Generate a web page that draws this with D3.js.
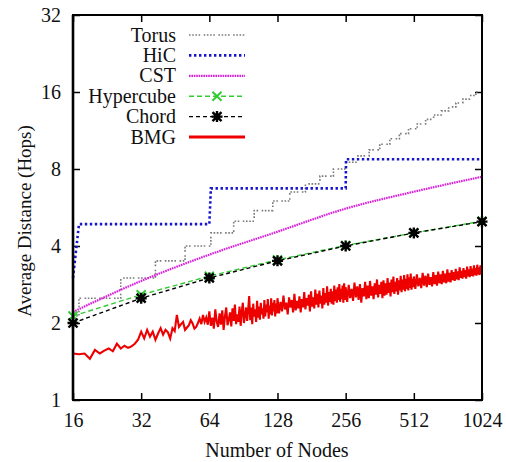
<!DOCTYPE html>
<html lang="en">
<head>
  <meta charset="UTF-8">
  <title>Average Distance vs Number of Nodes</title>
  <script src="https://cdn.jsdelivr.net/npm/d3@7"></script>
  <style>
    body {
      margin: 0;
      background-color: #fff;
    }
    svg text {
      font-family: "Liberation Serif", "Times New Roman", Times, "DejaVu Serif", serif;
      font-size: 20px;
      fill: #111;
    }
    .tick line {
      stroke: #000;
      stroke-width: 1.5;
    }
  </style>
</head>
<body>
  <div id="chart"></div>
  <script>
    // Data
    const xTicks = [16, 32, 64, 128, 256, 512, 1024];
    const yTicks = [1, 2, 4, 8, 16, 32];

    const powNodes = [16, 32, 64, 128, 256, 512, 1024];
    const hypercubeHops = [2.13, 2.58, 3.05, 3.53, 4.02, 4.5, 5.0];
    const chordHops = [2.0, 2.5, 3.0, 3.5, 4.0, 4.5, 4.98];

    const cstHops = [2.21, 2.92, 3.7, 4.55, 5.6, 6.52, 7.46];

    // step starts (value holds until next node)
    const torusNodes = [16, 17, 26, 37, 50, 65, 82, 101, 122, 145, 170, 197, 226, 257, 290,
      325, 362, 401, 442, 485, 530, 577, 626, 677, 730, 785, 842, 901, 962, 1024];
    const torusHops = [2.13, 2.5, 3, 3.5, 4, 4.5, 5, 5.5, 6, 6.5, 7, 7.5, 8, 8.5, 9,
      9.5, 10, 10.5, 11, 11.5, 12, 12.5, 13, 13.5, 14, 14.5, 15, 15.5, 16, 16];

    const hicNodes = [16, 17, 64, 65, 256, 257, 1024];
    const hicHops = [3.0, 4.87, 4.87, 6.72, 6.72, 8.73, 8.73];

    // BMG sampled every node up to 128, then every 2, 4, 8 nodes
    const bmgNodes = [].concat(
      d3.range(16, 128, 1),
      d3.range(128, 256, 2),
      d3.range(256, 512, 4),
      d3.range(512, 1025, 8)
    );
    const bmgHops = [
      // 16 - 63
      1.52, 1.51, 1.52, 1.45, 1.57, 1.52, 1.56, 1.59, 1.55, 1.66, 1.59, 1.63, 1.60, 1.62, 1.66, 1.72,
      1.85, 1.74, 1.88, 1.77, 1.85, 1.72, 1.82, 1.91, 1.80, 1.88, 1.84, 1.74, 1.91, 1.86, 2.15, 1.93,
      1.98, 2.02, 1.88, 1.92, 1.96, 2.05, 1.99, 1.90, 1.93, 2.00, 2.08, 1.98, 2.15, 2.02, 2.10, 1.97,
      // 64 - 127
      2.22, 1.95, 2.10, 1.90, 2.26, 2.02, 1.93, 2.18, 1.97, 2.24, 1.88, 2.12, 2.30, 1.96, 2.06, 2.20,
      1.94, 2.28, 2.04, 2.36, 1.98, 2.16, 2.02, 2.32, 1.95, 2.22, 2.40, 2.00, 2.14, 2.30, 2.04, 2.26,
      2.55, 2.05, 2.30, 1.98, 2.38, 2.12, 2.26, 2.02, 2.44, 2.10, 2.32, 2.06, 2.40, 2.16, 2.28, 2.08,
      2.46, 2.12, 2.36, 2.20, 2.48, 2.08, 2.34, 2.16, 2.50, 2.14, 2.40, 2.22, 2.46, 2.12, 2.38, 2.18,
      // 128 - 254
      2.50, 2.18, 2.42, 2.22, 2.56, 2.26, 2.40, 2.16, 2.52, 2.30, 2.46, 2.20, 2.60, 2.24, 2.44, 2.28,
      2.54, 2.20, 2.48, 2.30, 2.64, 2.26, 2.50, 2.34, 2.58, 2.22, 2.66, 2.32, 2.52, 2.28, 2.70, 2.36,
      2.60, 2.30, 2.68, 2.38, 2.56, 2.28, 2.74, 2.36, 2.62, 2.40, 2.78, 2.34, 2.64, 2.42, 2.72, 2.38,
      2.66, 2.36, 2.80, 2.44, 2.70, 2.40, 2.76, 2.46, 2.84, 2.42, 2.72, 2.48, 2.80, 2.40, 2.86, 2.46,
      // 256 - 508
      2.76, 2.42, 2.82, 2.50, 2.72, 2.44, 2.88, 2.52, 2.78, 2.46, 2.84, 2.40, 2.74, 2.54, 2.90, 2.48,
      2.80, 2.50, 2.92, 2.56, 2.78, 2.48, 2.86, 2.58, 2.96, 2.52, 2.82, 2.60, 2.90, 2.50, 2.94, 2.56,
      2.86, 2.58, 3.00, 2.62, 2.88, 2.54, 2.96, 2.64, 3.04, 2.60, 2.90, 2.66, 3.00, 2.58, 2.94, 2.68,
      3.06, 2.64, 2.96, 2.70, 3.08, 2.66, 2.98, 2.72, 3.10, 2.68, 3.02, 2.74, 3.12, 2.70, 2.98, 2.76,
      // 512 - 1024
      3.04, 2.72, 3.10, 2.78, 3.00, 2.74, 3.14, 2.80, 3.06, 2.76, 3.12, 2.82, 3.02, 2.78, 3.16, 2.84,
      3.08, 2.80, 3.18, 2.86, 3.10, 2.84, 3.20, 2.88, 3.12, 2.86, 3.24, 2.90, 3.14, 2.88, 3.22, 2.94,
      3.16, 2.92, 3.26, 2.96, 3.18, 2.94, 3.30, 3.00, 3.20, 2.98, 3.28, 3.02, 3.22, 2.98, 3.32, 3.04,
      3.24, 3.02, 3.34, 3.06, 3.26, 3.04, 3.36, 3.08, 3.28, 3.06, 3.38, 3.10, 3.30, 3.08, 3.36, 3.12,
      3.28
    ];

    const series = [
      { name: "Torus", color: "#7a7a7a", width: 1.6, dash: "1.6,1.6,1.6,1.6,1.6,1.6,1.6,3.5", nodes: torusNodes, hops: torusHops, curve: d3.curveStepAfter },
      { name: "HiC", color: "#1515cc", width: 2.6, dash: "2.4,2.6", nodes: hicNodes, hops: hicHops, curve: d3.curveLinear },
      { name: "CST", color: "#d920d9", width: 2.2, dash: "1.6,0.8", nodes: powNodes, hops: cstHops, curve: d3.curveMonotoneX },
      { name: "Hypercube", color: "#33cc33", width: 1.4, dash: "5,3", nodes: powNodes, hops: hypercubeHops, curve: d3.curveLinear, marker: "x" },
      { name: "Chord", color: "#000", width: 1.4, dash: "4,3", nodes: powNodes, hops: chordHops, curve: d3.curveLinear, marker: "star" },
      { name: "BMG", color: "#ee0000", width: 2.1, dash: null, nodes: bmgNodes, hops: bmgHops, curve: d3.curveLinear }
    ];

    const W = 506, H = 462;
    const margin = { top: 15, right: 24, bottom: 62, left: 73 };

    const svg = d3.select("#chart")
      .append("svg")
      .attr("width", W)
      .attr("height", H);

    const x = d3.scaleLog().base(2)
      .domain([16, 1024])
      .range([margin.left, W - margin.right]);

    const y = d3.scaleLog().base(2)
      .domain([1, 32])
      .range([H - margin.bottom, margin.top]);

    // Axes with inward ticks
    svg.append("g")
      .attr("transform", `translate(0,${y(1)})`)
      .call(d3.axisBottom(x).tickValues(xTicks).tickFormat(d3.format("d")).tickSize(-7).tickPadding(13))
      .call(g => g.select(".domain").remove());

    svg.append("g")
      .attr("transform", `translate(0,${y(32)})`)
      .call(d3.axisTop(x).tickValues(xTicks).tickFormat("").tickSize(-7))
      .call(g => g.select(".domain").remove());

    svg.append("g")
      .attr("transform", `translate(${x(16)},0)`)
      .call(d3.axisLeft(y).tickValues(yTicks).tickFormat(d3.format("d")).tickSize(-7).tickPadding(12))
      .call(g => g.select(".domain").remove());

    svg.append("g")
      .attr("transform", `translate(${x(1024)},0)`)
      .call(d3.axisRight(y).tickValues(yTicks).tickFormat("").tickSize(-7))
      .call(g => g.select(".domain").remove());

    svg.selectAll("g").attr("font-family", null).attr("font-size", null);
    svg.selectAll(".tick text").attr("fill", "#111");

    // Series lines
    const plot = svg.append("g");

    series.forEach(s => {
      const pts = s.nodes.map((n, i) => [n, s.hops[i]]);
      const line = d3.line()
        .x(d => x(d[0]))
        .y(d => y(d[1]))
        .curve(s.curve);
      plot.append("path")
        .datum(pts)
        .attr("fill", "none")
        .attr("stroke", s.color)
        .attr("stroke-width", s.width)
        .attr("stroke-linejoin", "miter")
        .attr("stroke-dasharray", s.dash)
        .attr("d", line);
    });

    function drawMarker(g, type, cx, cy, color) {
      const r = 4.5;
      if (type === "x") {
        g.append("path")
          .attr("d", `M${cx - r},${cy - r}L${cx + r},${cy + r}M${cx - r},${cy + r}L${cx + r},${cy - r}`)
          .attr("stroke", color).attr("stroke-width", 2).attr("fill", "none");
      } else {
        g.append("path")
          .attr("d", `M${cx - r},${cy - r}L${cx + r},${cy + r}M${cx - r},${cy + r}L${cx + r},${cy - r}M${cx - r - 1},${cy}L${cx + r + 1},${cy}M${cx},${cy - r - 1}L${cx},${cy + r + 1}`)
          .attr("stroke", color).attr("stroke-width", 2.4).attr("fill", "none");
        g.append("rect")
          .attr("x", cx - 3).attr("y", cy - 3).attr("width", 6).attr("height", 6)
          .attr("fill", color);
      }
    }

    series.filter(s => s.marker).forEach(s => {
      s.nodes.forEach((n, i) => drawMarker(plot, s.marker, x(n), y(s.hops[i]), s.color));
    });

    // Frame
    svg.append("rect")
      .attr("x", x(16))
      .attr("y", y(32))
      .attr("width", x(1024) - x(16))
      .attr("height", y(1) - y(32))
      .attr("fill", "none")
      .attr("stroke", "#000")
      .attr("stroke-width", 2);

    svg.append("line")
      .attr("x1", x(16)).attr("x2", x(16))
      .attr("y1", y(32)).attr("y2", y(1))
      .attr("stroke", "#000")
      .attr("stroke-width", 2.6);

    // Legend
    const legend = svg.append("g");
    series.forEach((s, i) => {
      const ly = 35 + i * 20.4;
      legend.append("text")
        .attr("x", 176)
        .attr("y", ly + 6.5)
        .attr("text-anchor", "end")
        .text(s.name);
      legend.append("line")
        .attr("x1", 189).attr("x2", 245)
        .attr("y1", ly).attr("y2", ly)
        .attr("stroke", s.color)
        .attr("stroke-width", s.name === "BMG" ? 2.8 : s.width)
        .attr("stroke-dasharray", s.dash);
      if (s.marker) drawMarker(legend, s.marker, 217, ly, s.color);
    });

    // Axis titles
    svg.append("text")
      .attr("x", 277)
      .attr("y", 457)
      .attr("text-anchor", "middle")
      .text("Number of Nodes");

    svg.append("text")
      .attr("transform", "translate(31,221) rotate(-90)")
      .attr("text-anchor", "middle")
      .style("font-size", "19px")
      .text("Average Distance (Hops)");
  </script>
</body>
</html>
